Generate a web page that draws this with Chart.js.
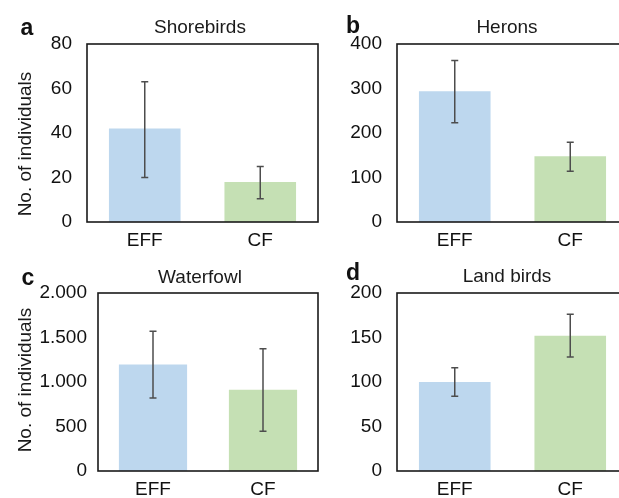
<!DOCTYPE html>
<html>
<head>
<meta charset="utf-8">
<script src="https://cdn.jsdelivr.net/npm/chart.js@4/dist/chart.umd.min.js"></script>
<style>
  html, body { margin:0; padding:0; background:#fff; overflow:hidden; width:619px; height:498px; }
  body { position:relative; font-family:"Liberation Sans", Arial, sans-serif; }
  .cv { position:absolute; }
  .t { position:absolute; font-size:19px; color:#1a1a1a; white-space:nowrap; transform:translate(-50%,-50%); }
  .l { position:absolute; font-size:23px; font-weight:bold; color:#111; transform:translate(-50%,-50%); }
  .yt { position:absolute; font-size:19px; color:#1a1a1a; white-space:nowrap; transform:translate(-50%,-50%) rotate(-90deg); }
</style>
</head>
<body>
<canvas id="ca" class="cv" width="320" height="270" style="left:0px;top:0px;"></canvas>
<canvas id="cb" class="cv" width="320" height="270" style="left:310px;top:0px;"></canvas>
<canvas id="cc" class="cv" width="320" height="270" style="left:0px;top:249px;"></canvas>
<canvas id="cd" class="cv" width="320" height="270" style="left:310px;top:249px;"></canvas>

<div class="l" style="left:27px;top:27px;">a</div>
<div class="l" style="left:353px;top:25px;">b</div>
<div class="l" style="left:28px;top:277px;">c</div>
<div class="l" style="left:353px;top:272px;">d</div>

<div class="t" style="left:200px;top:27px;">Shorebirds</div>
<div class="t" style="left:507px;top:27px;">Herons</div>
<div class="t" style="left:200px;top:277px;">Waterfowl</div>
<div class="t" style="left:507px;top:276px;">Land birds</div>

<div class="yt" style="left:25px;top:144px;">No. of individuals</div>
<div class="yt" style="left:25px;top:380px;">No. of individuals</div>

<script>
const categories = ['EFF', 'CF'];
const barColors = ['#bdd7ee', '#c5e0b4'];

const shorebirds = [42, 18];
const shorebirdsLow = [20, 10.5];
const shorebirdsHigh = [63, 25];

const herons = [294, 148];
const heronsLow = [223, 114];
const heronsHigh = [363, 179];

const waterfowl = [1197, 914];
const waterfowlLow = [820, 446];
const waterfowlHigh = [1570, 1375];

const landbirds = [100, 152];
const landbirdsLow = [84, 128];
const landbirdsHigh = [116, 176];

const yMaxes = [80, 400, 2000, 200];
const ySteps = [20, 100, 500, 50];

const errorBarPlugin = {
  id: 'errbars',
  afterDatasetsDraw(chart, args, opts) {
    const ctx = chart.ctx;
    const meta = chart.getDatasetMeta(0);
    const ys = chart.scales.y;
    ctx.save();
    ctx.strokeStyle = '#4d4d4d';
    ctx.lineWidth = 1.5;
    meta.data.forEach((bar, i) => {
      const x = bar.x;
      const yl = ys.getPixelForValue(opts.low[i]);
      const yh = ys.getPixelForValue(opts.high[i]);
      ctx.beginPath();
      ctx.moveTo(x, yl); ctx.lineTo(x, yh);
      ctx.moveTo(x - 3.5, yl); ctx.lineTo(x + 3.5, yl);
      ctx.moveTo(x - 3.5, yh); ctx.lineTo(x + 3.5, yh);
      ctx.stroke();
    });
    ctx.restore();
  }
};

const framePlugin = {
  id: 'frame',
  afterDraw(chart) {
    const a = chart.chartArea;
    const ctx = chart.ctx;
    ctx.save();
    ctx.strokeStyle = '#1a1a1a';
    ctx.lineWidth = 1.6;
    ctx.strokeRect(a.left, a.top, a.right - a.left, a.bottom - a.top);
    ctx.restore();
  }
};

function fmt(v) {
  return String(v).replace(/\B(?=(\d{3})+(?!\d))/g, '.');
}

function makeChart(id, values, low, high, yMax, step, axisWidth, tickPad) {
  return new Chart(document.getElementById(id), {
    type: 'bar',
    data: {
      labels: categories,
      datasets: [{
        data: values,
        backgroundColor: barColors,
        borderWidth: 0,
        barPercentage: 0.62,
        categoryPercentage: 1.0
      }]
    },
    plugins: [errorBarPlugin, framePlugin],
    options: {
      responsive: false,
      animation: false,
      events: [],
      layout: { padding: { top: 44, right: 2, left: 0, bottom: 20 } },
      plugins: {
        legend: { display: false },
        tooltip: { enabled: false },
        title: { display: false },
        errbars: { low: low, high: high }
      },
      scales: {
        x: {
          grid: { display: false, drawTicks: false },
          border: { display: false },
          ticks: { color: '#111', font: { family: '"Liberation Sans", Arial, sans-serif', size: 19 }, padding: 7, maxRotation: 0 },
          afterFit(s) { s.height = 28; }
        },
        y: {
          min: 0, max: yMax,
          grid: { display: false, drawTicks: false },
          border: { display: false },
          ticks: {
            stepSize: step,
            color: '#111',
            font: { family: '"Liberation Sans", Arial, sans-serif', size: 19 },
            padding: tickPad,
            callback: (v) => fmt(v)
          },
          afterFit(s) { s.width = axisWidth; }
        }
      }
    }
  });
}

makeChart('ca', shorebirds, shorebirdsLow, shorebirdsHigh, yMaxes[0], ySteps[0], 87, 15);
makeChart('cb', herons, heronsLow, heronsHigh, yMaxes[1], ySteps[1], 87, 15);
makeChart('cc', waterfowl, waterfowlLow, waterfowlHigh, yMaxes[2], ySteps[2], 98, 11);
makeChart('cd', landbirds, landbirdsLow, landbirdsHigh, yMaxes[3], ySteps[3], 87, 15);
</script>
</body>
</html>
